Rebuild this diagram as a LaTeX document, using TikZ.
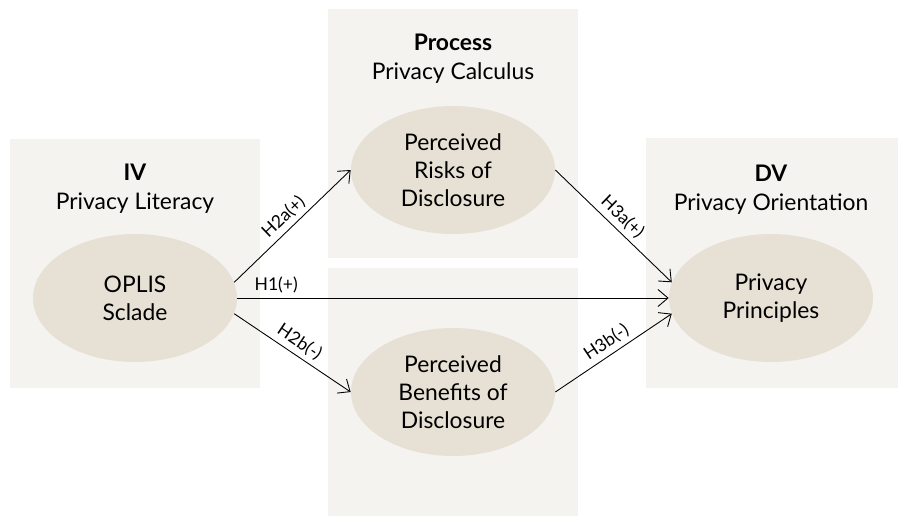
\documentclass[tikz,border=0pt]{standalone}
\usepackage{fontspec}
\setmainfont{Lato}
\usepackage{xcolor}
\usepackage{tikz}
\usetikzlibrary{arrows.meta,shapes.geometric}

\definecolor{panelgray}{HTML}{F4F3F0}
\definecolor{ovalbeige}{HTML}{E7E0D5}

\begin{document}
\begin{tikzpicture}[>={Straight Barb[length=2mm,width=3.4mm]}]
  % Styles
  \tikzstyle{panel}=[fill=panelgray, draw=none, inner sep=0pt]
  \tikzstyle{oval}=[ellipse, fill=ovalbeige, draw=none, inner sep=0pt, minimum width=4.08cm, minimum height=2.56cm, align=center, font=\fontsize{13}{16}\selectfont]
  \tikzstyle{title}=[align=center, font=\fontsize{13}{16.5}\selectfont]
  \tikzstyle{lab}=[font=\fontsize{10}{12}\selectfont, inner sep=2.5pt]
  \tikzstyle{path}=[->, line width=0.5pt]

  \useasboundingbox (0,0) rectangle (17.96,10.32);

  % Background panels
  \node[panel, minimum width=5cm, minimum height=4.98cm] (iv_box) at (2.7,5.05) {};
  \node[panel, minimum width=5cm, minimum height=4.98cm] (proc_top) at (9.06,7.65) {};
  \node[panel, minimum width=5cm, minimum height=4.96cm] (proc_bot) at (9.06,2.48) {};
  \node[panel, minimum width=5.04cm, minimum height=5cm] (dv_box) at (15.44,5.06) {};

  % Panel titles
  \node[title] (iv_title) at (2.7,6.54) {\textbf{IV}\\Privacy Literacy};
  \node[title] (proc_title) at (9.06,9.14) {\textbf{Process}\\Privacy Calculus};
  \node[title] (dv_title) at (15.42,6.52) {\textbf{DV}\\Privacy Orientation};

  % Constructs
  \node[oval] (oplis) at (2.7,4.36) {OPLIS\\Sclade};
  \node[oval] (risks) at (9.06,6.92) {Perceived\\Risks of\\Disclosure};
  \node[oval] (benefits) at (9.06,2.48) {Perceived\\Benefits of\\Disclosure};
  \node[oval] (principles) at (15.42,4.36) {Privacy\\Principles};

  % Hypotheses
  \draw[path] (oplis.9) -- node[lab, above, sloped] {H2a(+)} (risks.west);
  \draw[path] (oplis.-9) -- node[lab, above, sloped] {H2b(-)} (benefits.west);
  \draw[path] (oplis.east) -- node[lab, above, pos=0.09] {H1(+)} (principles.west);
  \draw[path] (risks.east) -- node[lab, above, sloped] {H3a(+)} (principles.171);
  \draw[path] (benefits.east) -- node[lab, above, sloped] {H3b(-)} (principles.189);
\end{tikzpicture}
\end{document}
